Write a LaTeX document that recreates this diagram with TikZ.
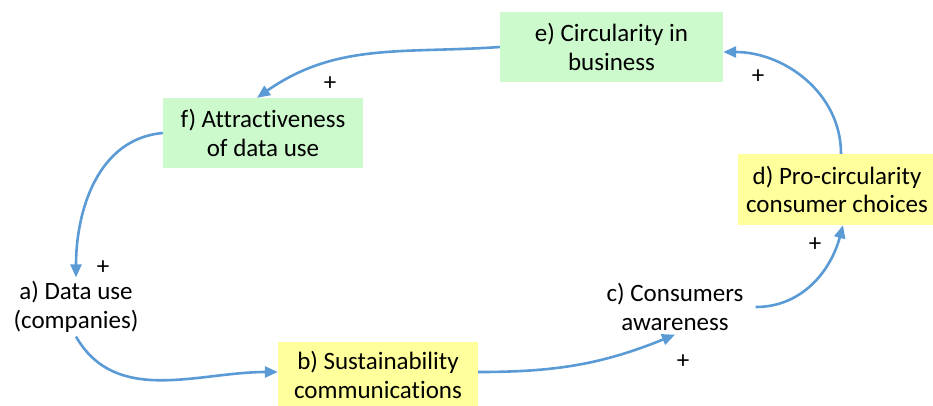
\documentclass[tikz,border=0pt]{standalone}
\usepackage{fontspec}
\setmainfont{Carlito}[Ligatures=CommonOff]
\usetikzlibrary{arrows.meta}
\definecolor{boxgreen}{RGB}{204,250,204}
\definecolor{boxyellow}{RGB}{255,255,155}
\definecolor{linkblue}{RGB}{91,155,213}
\tikzset{
  line cap=round,
  line join=round,
  box/.style={inner sep=0pt, align=center, font=\fontsize{25}{28.5}\selectfont},
  greenbox/.style={box, fill=boxgreen},
  yellowbox/.style={box, fill=boxyellow},
  plainbox/.style={box, inner sep=6pt},
  link/.style={-{Triangle[length=13pt,width=11pt]}, draw=linkblue, line width=2.6pt},
  sign/.style={font=\fontsize{25}{25}\selectfont}
}
\begin{document}
\begin{tikzpicture}[x=1pt, y=-1pt]
    \useasboundingbox (0,0) rectangle (933,405);

    % variables of the loop
    \node[greenbox, minimum width=223pt, minimum height=70pt] (ecirc) at (611.5,47) {e) Circularity in\\business};
    \node[greenbox, minimum width=200pt, minimum height=70pt] (fattr) at (263,133) {f) Attractiveness\\of data use};
    \node[yellowbox, minimum width=198pt, minimum height=71pt] (dpro) at (837,189.5) {d) Pro-circularity\\consumer choices};
    \node[yellowbox, minimum width=200pt, minimum height=66pt] (bsust) at (378,375) {b) Sustainability\\communications};
    \node[plainbox] (adata) at (76,307) {a) Data use\\(companies)};
    \node[plainbox] (cawar) at (675,307) {c) Consumers\\awareness};

    % causal links
    \draw[link] (ecirc.west) to[out=184, in=35] ([xshift=-6pt]fattr.north);
    \draw[link] (fattr.west) to[out=185, in=90] ([yshift=-2pt]adata.north);
    \draw[link] ([yshift=2pt]adata.south) to[out=-60, in=180] ([yshift=3pt]bsust.west);
    \draw[link] ([yshift=3pt]bsust.east) to[out=0, in=-158] ([yshift=2pt]cawar.south);
    \draw[link] ([xshift=6pt]cawar.east) to[out=0, in=-105] ([xshift=6pt]dpro.south);
    \draw[link] ([xshift=4pt]dpro.north) to[out=90, in=0] ([yshift=-5pt]ecirc.east);

    % polarities
    \node[sign] (pf) at (330,84) {+};
    \node[sign] (pa) at (103,268) {+};
    \node[sign] (pc) at (683,362) {+};
    \node[sign] (pd) at (815,245) {+};
    \node[sign] (pe) at (758,77) {+};
\end{tikzpicture}
\end{document}
